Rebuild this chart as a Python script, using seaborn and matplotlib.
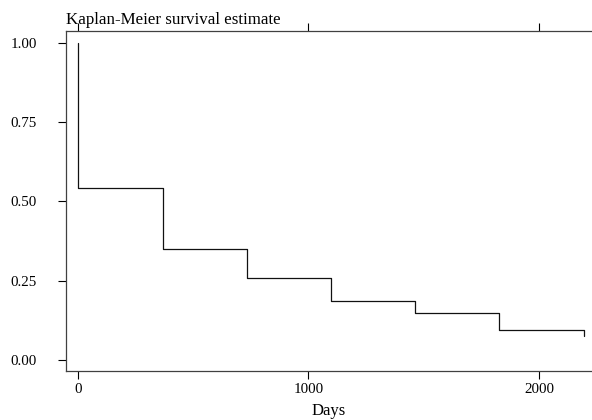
import numpy as np
import pandas as pd
import seaborn as sns
import matplotlib
matplotlib.use("Agg")
import matplotlib.pyplot as plt

# Data
days = [0, 1, 367, 734, 1099, 1462, 1828, 2194]
survival = [1.0, 0.543, 0.349, 0.259, 0.185, 0.147, 0.095, 0.074]
x_ticks = [0, 1000, 2000]
y_ticks = [0.0, 0.25, 0.5, 0.75, 1.0]
y_tick_labels = ["0.00", "0.25", "0.50", "0.75", "1.00"]

sns.set_theme(style="ticks")
plt.rcParams["font.family"] = ["Liberation Serif", "DejaVu Serif"]

df = pd.DataFrame({"Days": days, "S": survival})

fig = plt.figure(figsize=(5.92, 4.2), dpi=100)
ax = fig.add_axes([66 / 592, 49 / 420, (592 - 66) / 592, (371 - 31) / 420])

sns.lineplot(data=df, x="Days", y="S", ax=ax, drawstyle="steps-post",
             color="#111111", linewidth=0.9, estimator=None)

ax.set_xlim(-52, 2230)
ax.set_ylim(-0.035, 1.038)
ax.set_xticks(x_ticks)
ax.set_xticklabels([str(v) for v in x_ticks])
ax.set_yticks(y_ticks)
ax.set_yticklabels(y_tick_labels)

ax.spines["right"].set_visible(False)
for s in ["left", "top", "bottom"]:
    ax.spines[s].set_visible(True)
    ax.spines[s].set_color("#404040")
    ax.spines[s].set_linewidth(0.9)

ax.tick_params(axis="x", which="both", direction="out", length=5.8, width=0.8,
               color="black", top=True, labeltop=False, bottom=True,
               labelsize=10.8, pad=3, labelcolor="black")
ax.tick_params(axis="y", direction="out", length=5.8, width=0.8, color="black",
               labelsize=10.8, pad=15, labelcolor="black")

ax.set_xlabel("Days", fontsize=12, labelpad=5, color="black")
ax.set_ylabel("")
ax.annotate("Kaplan-Meier survival estimate", xy=(0, 1), xycoords="axes fraction",
            xytext=(0, 5.2), textcoords="offset points", ha="left",
            va="baseline", fontsize=12.2, color="black")

fig.savefig("out.png", dpi=100)
